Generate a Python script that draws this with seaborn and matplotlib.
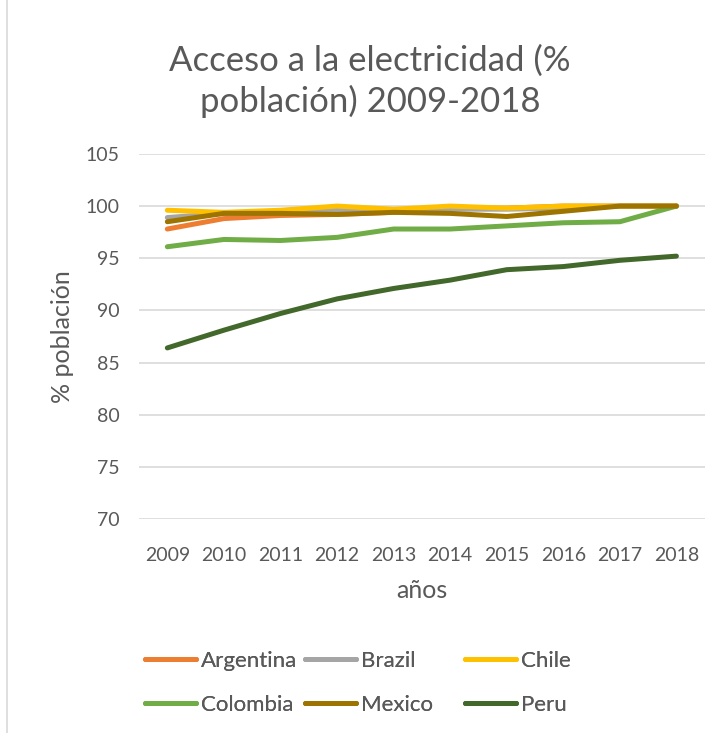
import numpy as np
import pandas as pd
import matplotlib
matplotlib.use("Agg")
import matplotlib.pyplot as plt
from matplotlib.lines import Line2D
from matplotlib.patches import Rectangle
import seaborn as sns

years = ["2009", "2010", "2011", "2012", "2013", "2014", "2015", "2016", "2017", "2018"]
argentina = [97.8, 98.8, 99.1, 99.2, 99.4, 99.8, 99.8, 100.0, 100.0, 100.0]
brazil = [98.9, 99.3, 99.4, 99.6, 99.5, 99.7, 99.7, 99.8, 100.0, 100.0]
chile = [99.6, 99.4, 99.6, 100.0, 99.7, 100.0, 99.8, 100.0, 100.0, 100.0]
colombia = [96.1, 96.8, 96.7, 97.0, 97.8, 97.8, 98.1, 98.4, 98.5, 100.0]
mexico = [98.5, 99.3, 99.3, 99.2, 99.4, 99.3, 99.0, 99.5, 100.0, 100.0]
peru = [86.4, 88.1, 89.7, 91.1, 92.1, 92.9, 93.9, 94.2, 94.8, 95.2]

countries = ["Argentina", "Brazil", "Chile", "Colombia", "Mexico", "Peru"]
colors = ["#ED7D31", "#A5A5A5", "#FFC000", "#70AD47", "#9E7400", "#43682B"]

series = [argentina, brazil, chile, colombia, mexico, peru]
df = pd.concat(
    [pd.DataFrame({"year": years, "value": v, "country": c}) for c, v in zip(countries, series)],
    ignore_index=True,
)

sns.set_style("white")
plt.rcParams["font.family"] = ["Lato", "DejaVu Sans"]
txt = "#595959"

fig = plt.figure(figsize=(7.28, 7.33), dpi=100)
ax = fig.add_axes([0.191, 0.292, 0.777, 0.498])

sns.lineplot(data=df, x="year", y="value", hue="country", hue_order=countries,
             palette=colors, linewidth=3.6, ax=ax, legend=False, sort=False)
for ln in ax.lines:
    ln.set_solid_capstyle("round")
    ln.set_solid_joinstyle("round")

ax.set_ylim(70, 105)
ax.set_xlim(-0.5, 9.5)
ax.set_yticks(range(70, 106, 5))
ax.grid(axis="y", color="#D9D9D9", lw=1.2)
ax.set_axisbelow(True)
for s in ax.spines.values():
    s.set_visible(False)
ax.tick_params(axis="both", length=0, labelsize=14, labelcolor=txt)
ax.tick_params(axis="x", pad=20)
ax.tick_params(axis="y", pad=14)
ax.set_xlabel("años", fontsize=18, color=txt, labelpad=11)
ax.set_ylabel("% población", fontsize=18, color=txt, labelpad=8)

fig.text(0.508, 0.889, "Acceso a la electricidad (%\npoblación) 2009-2018",
         ha="center", va="center", fontsize=25, color=txt, linespacing=1.28)

# Excel-style legend: three equal-width columns, two rows
handles = [Line2D([], [], color=c, lw=3.6, solid_capstyle="round") for c in colors]
col_x = [134, 294, 454]
for j, x0 in enumerate(col_x):
    idx = [j, j + 3]
    leg = fig.legend([handles[i] for i in idx], [countries[i] for i in idx],
                     ncol=1, loc="center left", bbox_to_anchor=(x0 / 728, 1 - 683 / 733),
                     frameon=False, fontsize=16, labelcolor=txt, handlelength=2.3,
                     handletextpad=0.2, labelspacing=1.1, borderpad=0)
    fig.add_artist(leg)

fig.add_artist(Rectangle((0.01, -0.01), 1.2, 1.2, transform=fig.transFigure,
                         fill=False, edgecolor="#D9D9D9", lw=1.2))

fig.savefig("out.png", dpi=100)
